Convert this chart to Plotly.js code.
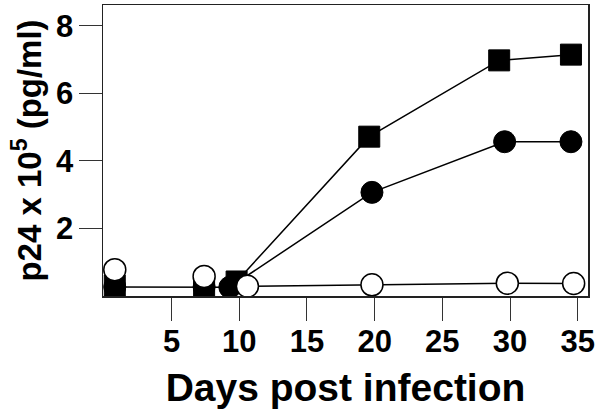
<!DOCTYPE html>
<html>
<head>
<meta charset="utf-8">
<script src="https://cdn.plot.ly/plotly-3.0.1.min.js"></script>
<style>html,body{margin:0;padding:0;background:#fff}#chart{width:600px;height:412px}</style>
</head>
<body>
<div id="chart"></div>
<script>
// Data
const xTickVals = [5, 10, 15, 20, 25, 30, 35];
const yTickVals = [2, 4, 6, 8];

// Filled squares
const squareEarlyDays = [0.8, 7.4];
const squareEarlyP24 = [0.31, 0.26];
const squareDays = [9.8, 19.6, 29.2, 34.5];
const squareP24 = [0.43, 4.72, 6.98, 7.15];

// Filled circles
const circleDays = [0.8, 7.4, 9.3, 19.8, 29.6, 34.5];
const circleP24 = [0.27, 0.27, 0.26, 3.07, 4.57, 4.57];

// Open circles
const openEarlyDays = [0.8, 7.4];
const openEarlyP24 = [0.78, 0.58];
const openDays = [10.6, 19.8, 29.8, 34.7];
const openP24 = [0.29, 0.33, 0.38, 0.37];

const lineStyle = {color: '#000', width: 1.5};
const traces = [
  {x: circleDays, y: circleP24, mode: 'lines+markers', line: lineStyle,
   marker: {symbol: 'circle', size: 22, color: '#000', line: {color: '#000', width: 1}}},
  {x: squareDays, y: squareP24, mode: 'lines+markers', line: lineStyle,
   marker: {symbol: 'square', size: 21, color: '#000', line: {color: '#000', width: 1}}},
  {x: squareEarlyDays, y: squareEarlyP24, mode: 'markers',
   marker: {symbol: 'square', size: 21, color: '#000', line: {color: '#000', width: 1}}},
  {x: openDays, y: openP24, mode: 'lines+markers', line: lineStyle,
   marker: {symbol: 'circle', size: 22, color: '#fff', line: {color: '#000', width: 1.5}}},
  {x: openEarlyDays, y: openEarlyP24, mode: 'markers',
   marker: {symbol: 'circle', size: 22, color: '#fff', line: {color: '#000', width: 1.5}}}
];

const fontFam = '"Liberation Sans", Arial, sans-serif';
const layout = {
  width: 600, height: 412,
  margin: {l: 103, r: 12, t: 5, b: 116},
  paper_bgcolor: '#fff', plot_bgcolor: '#fff',
  showlegend: false,
  font: {family: fontFam, color: '#000'},
  xaxis: {
    range: [-0.07, 35.76], tickvals: xTickVals, ticks: 'outside', ticklen: 23,
    tickwidth: 1, tickcolor: '#333', showline: true, linecolor: '#222', linewidth: 1.5,
    mirror: true, showgrid: false, zeroline: false, ticklabelstandoff: -6,
    tickfont: {family: fontFam, size: 31, weight: 'bold'},
    title: {text: '<b>Days post infection</b>', font: {family: fontFam, size: 39}, standoff: 16}
  },
  yaxis: {
    range: [0, 8.62], tickvals: yTickVals, ticks: 'outside', ticklen: 23,
    tickwidth: 1, tickcolor: '#333', showline: true, linecolor: '#222', linewidth: 1.5,
    mirror: true, showgrid: false, zeroline: false, ticklabelstandoff: -1,
    tickfont: {family: fontFam, size: 31, weight: 'bold'},
    title: {text: '<b>p24 x 10<sup>5</sup> (pg/ml)</b>', font: {family: fontFam, size: 33}, standoff: 4}
  }
};
Plotly.newPlot('chart', traces, layout, {displayModeBar: false, staticPlot: true});
</script>
</body>
</html>
